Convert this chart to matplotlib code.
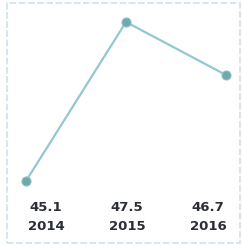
import matplotlib
matplotlib.use("Agg")
import matplotlib.pyplot as plt
from matplotlib.patches import Rectangle

# 데이터
years = ["2014", "2015", "2016"]
values = [45.1, 47.5, 46.7]

W, H = 242, 249
fig = plt.figure(figsize=(W / 100, H / 100), dpi=100)
fig.patch.set_facecolor("white")

ax = fig.add_axes([0, 0, 1, 1])
ax.set_xlim(-0.26, 2.16)
ax.set_ylim(44.074, 47.832)
ax.axis("off")

xs = list(range(len(values)))
ax.plot(xs, values, color="#93c8d2", lw=1.6, zorder=2)
ax.plot(xs, values, "o", ms=6.5, color="#6fa9ad", mec="#8cc0c4", mew=0.8, zorder=3)

# 아래쪽 값/연도 라벨
for i, (yr, v) in enumerate(zip(years, values)):
    lx = 0.2 + i * 0.81
    ax.text(lx, 1 - 207 / H, f"{v}", transform=ax.get_xaxis_transform(),
            ha="center", va="center", fontsize=9.5, fontweight="bold", color="#2b2f33")
    ax.text(lx, 1 - 226 / H, yr, transform=ax.get_xaxis_transform(),
            ha="center", va="center", fontsize=9.5, fontweight="bold", color="#2b2f33")

# 점선 테두리
fig.patches.append(Rectangle((7 / W, 6 / H), 233 / W, 240 / H, transform=fig.transFigure,
                             fill=False, ec="#cde2ea", lw=1.2, ls=(0, (4, 1.5))))

fig.savefig("out.png", dpi=100)
